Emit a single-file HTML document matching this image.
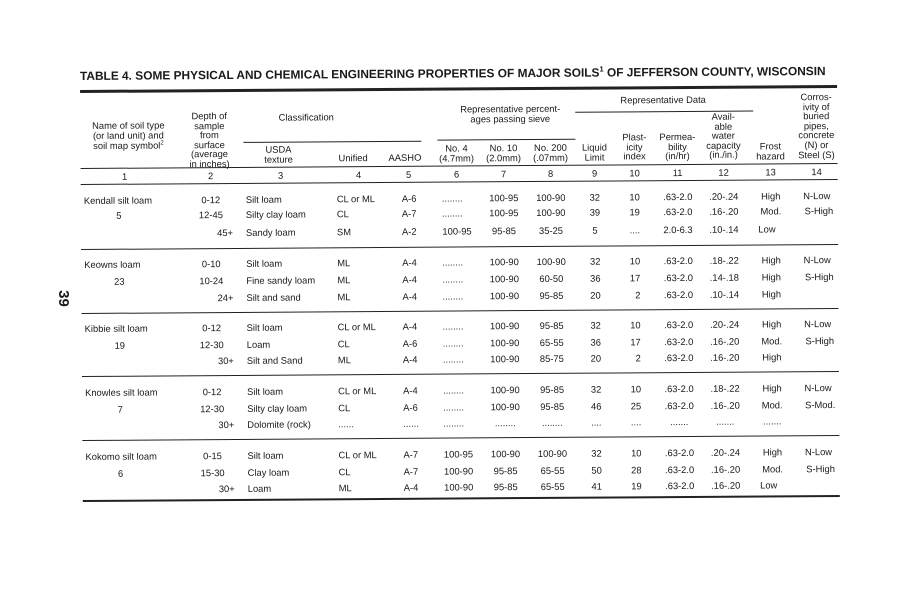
<!DOCTYPE html>
<html><head><meta charset="utf-8"><style>
body{margin:0;background:#fff;width:919px;height:600px;overflow:hidden;position:relative;font-family:"Liberation Sans",Arial,sans-serif;color:#1a1a1a}
#w{position:absolute;left:0;top:0;width:919px;height:600px;transform:rotate(-0.38deg);transform-origin:80px 80px}
#w div{position:absolute;white-space:nowrap;font-size:9.4px;line-height:9.6px}
.c{transform:translateX(-50%);text-align:center}
.r{transform:translateX(-100%);text-align:right}
.h{position:absolute;background:#222}
#w .t{font-size:11.9px;font-weight:bold;letter-spacing:0px}
</style></head><body>
<div style="position:absolute;left:55px;top:290px;font-size:15px;font-weight:bold;transform:rotate(90deg)">39</div>
<div id="w">
<div class="t" style="left:80px;top:68px">TABLE 4. SOME PHYSICAL AND CHEMICAL ENGINEERING PROPERTIES OF MAJOR SOILS<sup style="font-size:7.5px">1</sup> OF JEFFERSON COUNTY, WISCONSIN</div>
<span class="h" style="left:80px;top:90px;width:757px;height:2.5px"></span>

<div class="c" style="left:128px;top:121px">Name of soil type<br>(or land unit) and<br>soil map symbol<sup style="font-size:6px">2</sup></div>
<div class="c" style="left:209px;top:112px">Depth of<br>sample<br>from<br>surface<br>(average<br>in inches)</div>
<div class="c" style="left:306px;top:114px">Classification</div>
<span class="h" style="left:243px;top:143px;width:178px;height:1px"></span>
<div class="c" style="left:278px;top:146px">USDA<br>texture</div>
<div style="left:338px;top:155px">Unified</div>
<div style="left:388px;top:155px">AASHO</div>
<div class="c" style="left:510px;top:107px">Representative percent-<br>ages passing sieve</div>
<span class="h" style="left:437px;top:142px;width:138px;height:1px"></span>
<div class="c" style="left:456px;top:146px">No. 4<br>(4.7mm)</div>
<div class="c" style="left:503px;top:146px">No. 10<br>(2.0mm)</div>
<div class="c" style="left:550px;top:146px">No. 200<br>(.07mm)</div>
<div class="c" style="left:663px;top:99px">Representative Data</div>
<span class="h" style="left:575px;top:115px;width:178px;height:1px"></span>
<div class="c" style="left:594px;top:146px">Liquid<br>Limit</div>
<div class="c" style="left:634px;top:136px">Plast-<br>icity<br>index</div>
<div class="c" style="left:677px;top:136px">Permea-<br>bility<br>(in/hr)</div>
<div class="c" style="left:723px;top:116px">Avail-<br>able<br>water<br>capacity<br>(in./in.)</div>
<div class="c" style="left:770px;top:146px">Frost<br>hazard</div>
<div class="c" style="left:816px;top:97px">Corros-<br>ivity of<br>buried<br>pipes,<br>concrete<br>(N) or<br>Steel (S)</div>
<span class="h" style="left:80px;top:168px;width:757px;height:1.3px"></span>
<div class="c" style="left:124px;top:172px">1</div><div class="c" style="left:210px;top:172px">2</div><div class="c" style="left:280px;top:172px">3</div><div class="c" style="left:358px;top:172px">4</div><div class="c" style="left:408px;top:172px">5</div><div class="c" style="left:456px;top:172px">6</div><div class="c" style="left:503px;top:172px">7</div><div class="c" style="left:550px;top:172px">8</div><div class="c" style="left:594px;top:172px">9</div><div class="c" style="left:634px;top:172px">10</div><div class="c" style="left:677px;top:172px">11</div><div class="c" style="left:723px;top:172px">12</div><div class="c" style="left:770px;top:172px">13</div><div class="c" style="left:816px;top:172px">14</div>
<span class="h" style="left:80px;top:184px;width:757px;height:1.3px"></span>

<!-- Kendall -->
<div style="left:83px;top:196px">Kendall silt loam</div>
<div class="c" style="left:118px;top:211px">5</div>
<div class="c" style="left:210px;top:196px">0-12</div><div class="c" style="left:210px;top:211px">12-45</div><div class="r" style="left:232px;top:229px">45+</div>
<div style="left:245px;top:196px">Silt loam</div><div style="left:245px;top:211px">Silty clay loam</div><div style="left:245px;top:229px">Sandy loam</div>
<div style="left:336px;top:196px">CL or ML</div><div style="left:336px;top:211px">CL</div><div style="left:336px;top:229px">SM</div>
<div style="left:401px;top:196px">A-6</div><div style="left:401px;top:211px">A-7</div><div style="left:401px;top:229px">A-2</div>
<div style="left:441px;top:196px">........</div><div style="left:441px;top:211px">........</div><div class="c" style="left:456px;top:229px">100-95</div>
<div class="c" style="left:503px;top:196px">100-95</div><div class="c" style="left:503px;top:211px">100-95</div><div class="c" style="left:503px;top:229px">95-85</div>
<div class="c" style="left:550px;top:196px">100-90</div><div class="c" style="left:550px;top:211px">100-90</div><div class="c" style="left:550px;top:229px">35-25</div>
<div class="c" style="left:594px;top:196px">32</div><div class="c" style="left:594px;top:211px">39</div><div class="c" style="left:594px;top:229px">5</div>
<div class="r" style="left:639px;top:196px">10</div><div class="r" style="left:639px;top:211px">19</div><div class="r" style="left:639px;top:229px">....</div>
<div class="c" style="left:677px;top:196px">.63-2.0</div><div class="c" style="left:677px;top:211px">.63-2.0</div><div class="c" style="left:677px;top:229px">2.0-6.3</div>
<div class="c" style="left:723px;top:196px">.20-.24</div><div class="c" style="left:723px;top:211px">.16-.20</div><div class="c" style="left:723px;top:229px">.10-.14</div>
<div class="c" style="left:770px;top:196px">High</div><div class="c" style="left:770px;top:211px">Mod.</div><div class="c" style="left:766px;top:229px">Low</div>
<div class="c" style="left:816px;top:196px">N-Low</div><div class="c" style="left:818px;top:211px">S-High</div>
<span class="h" style="left:80px;top:249px;width:757px;height:1.3px"></span>

<!-- Keowns -->
<div style="left:83px;top:260px">Keowns loam</div>
<div class="c" style="left:118px;top:277px">23</div>
<div class="c" style="left:210px;top:260px">0-10</div><div class="c" style="left:210px;top:277px">10-24</div><div class="r" style="left:232px;top:294px">24+</div>
<div style="left:245px;top:260px">Silt loam</div><div style="left:245px;top:277px">Fine sandy loam</div><div style="left:245px;top:294px">Silt and sand</div>
<div style="left:336px;top:260px">ML</div><div style="left:336px;top:277px">ML</div><div style="left:336px;top:294px">ML</div>
<div style="left:401px;top:260px">A-4</div><div style="left:401px;top:277px">A-4</div><div style="left:401px;top:294px">A-4</div>
<div style="left:441px;top:260px">........</div><div style="left:441px;top:277px">........</div><div style="left:441px;top:294px">........</div>
<div class="c" style="left:503px;top:260px">100-90</div><div class="c" style="left:503px;top:277px">100-90</div><div class="c" style="left:503px;top:294px">100-90</div>
<div class="c" style="left:550px;top:260px">100-90</div><div class="c" style="left:550px;top:277px">60-50</div><div class="c" style="left:550px;top:294px">95-85</div>
<div class="c" style="left:594px;top:260px">32</div><div class="c" style="left:594px;top:277px">36</div><div class="c" style="left:594px;top:294px">20</div>
<div class="r" style="left:639px;top:260px">10</div><div class="r" style="left:639px;top:277px">17</div><div class="r" style="left:639px;top:294px">2</div>
<div class="c" style="left:677px;top:260px">.63-2.0</div><div class="c" style="left:677px;top:277px">.63-2.0</div><div class="c" style="left:677px;top:294px">.63-2.0</div>
<div class="c" style="left:723px;top:260px">.18-.22</div><div class="c" style="left:723px;top:277px">.14-.18</div><div class="c" style="left:723px;top:294px">.10-.14</div>
<div class="c" style="left:770px;top:260px">High</div><div class="c" style="left:770px;top:277px">High</div><div class="c" style="left:770px;top:294px">High</div>
<div class="c" style="left:816px;top:260px">N-Low</div><div class="c" style="left:818px;top:277px">S-High</div>
<span class="h" style="left:80px;top:313px;width:757px;height:1.3px"></span>

<!-- Kibbie -->
<div style="left:83px;top:324px">Kibbie silt loam</div>
<div class="c" style="left:118px;top:341px">19</div>
<div class="c" style="left:210px;top:324px">0-12</div><div class="c" style="left:210px;top:341px">12-30</div><div class="r" style="left:232px;top:357px">30+</div>
<div style="left:245px;top:324px">Silt loam</div><div style="left:245px;top:341px">Loam</div><div style="left:245px;top:357px">Silt and Sand</div>
<div style="left:336px;top:324px">CL or ML</div><div style="left:336px;top:341px">CL</div><div style="left:336px;top:357px">ML</div>
<div style="left:401px;top:324px">A-4</div><div style="left:401px;top:341px">A-6</div><div style="left:401px;top:357px">A-4</div>
<div style="left:441px;top:324px">........</div><div style="left:441px;top:341px">........</div><div style="left:441px;top:357px">........</div>
<div class="c" style="left:503px;top:324px">100-90</div><div class="c" style="left:503px;top:341px">100-90</div><div class="c" style="left:503px;top:357px">100-90</div>
<div class="c" style="left:550px;top:324px">95-85</div><div class="c" style="left:550px;top:341px">65-55</div><div class="c" style="left:550px;top:357px">85-75</div>
<div class="c" style="left:594px;top:324px">32</div><div class="c" style="left:594px;top:341px">36</div><div class="c" style="left:594px;top:357px">20</div>
<div class="r" style="left:639px;top:324px">10</div><div class="r" style="left:639px;top:341px">17</div><div class="r" style="left:639px;top:357px">2</div>
<div class="c" style="left:677px;top:324px">.63-2.0</div><div class="c" style="left:677px;top:341px">.63-2.0</div><div class="c" style="left:677px;top:357px">.63-2.0</div>
<div class="c" style="left:723px;top:324px">.20-.24</div><div class="c" style="left:723px;top:341px">.16-.20</div><div class="c" style="left:723px;top:357px">.16-.20</div>
<div class="c" style="left:770px;top:324px">High</div><div class="c" style="left:770px;top:341px">Mod.</div><div class="c" style="left:770px;top:357px">High</div>
<div class="c" style="left:816px;top:324px">N-Low</div><div class="c" style="left:818px;top:341px">S-High</div>
<span class="h" style="left:80px;top:376px;width:757px;height:1.3px"></span>

<!-- Knowles -->
<div style="left:83px;top:388px">Knowles silt loam</div>
<div class="c" style="left:118px;top:405px">7</div>
<div class="c" style="left:210px;top:388px">0-12</div><div class="c" style="left:210px;top:405px">12-30</div><div class="r" style="left:232px;top:421px">30+</div>
<div style="left:245px;top:388px">Silt loam</div><div style="left:245px;top:405px">Silty clay loam</div><div style="left:245px;top:421px">Dolomite (rock)</div>
<div style="left:336px;top:388px">CL or ML</div><div style="left:336px;top:405px">CL</div><div style="left:336px;top:421px">......</div>
<div style="left:401px;top:388px">A-4</div><div style="left:401px;top:405px">A-6</div><div style="left:401px;top:421px">......</div>
<div style="left:441px;top:388px">........</div><div style="left:441px;top:405px">........</div><div style="left:441px;top:421px">........</div>
<div class="c" style="left:503px;top:388px">100-90</div><div class="c" style="left:503px;top:405px">100-90</div><div class="c" style="left:503px;top:421px">........</div>
<div class="c" style="left:550px;top:388px">95-85</div><div class="c" style="left:550px;top:405px">95-85</div><div class="c" style="left:550px;top:421px">........</div>
<div class="c" style="left:594px;top:388px">32</div><div class="c" style="left:594px;top:405px">46</div><div class="c" style="left:594px;top:421px">....</div>
<div class="r" style="left:639px;top:388px">10</div><div class="r" style="left:639px;top:405px">25</div><div class="r" style="left:639px;top:421px">....</div>
<div class="c" style="left:677px;top:388px">.63-2.0</div><div class="c" style="left:677px;top:405px">.63-2.0</div><div class="c" style="left:677px;top:421px">.......</div>
<div class="c" style="left:723px;top:388px">.18-.22</div><div class="c" style="left:723px;top:405px">.16-.20</div><div class="c" style="left:723px;top:421px">.......</div>
<div class="c" style="left:770px;top:388px">High</div><div class="c" style="left:770px;top:405px">Mod.</div><div class="c" style="left:770px;top:421px">.......</div>
<div class="c" style="left:816px;top:388px">N-Low</div><div class="c" style="left:818px;top:405px">S-Mod.</div>
<span class="h" style="left:80px;top:440px;width:757px;height:1.3px"></span>

<!-- Kokomo -->
<div style="left:83px;top:452px">Kokomo silt loam</div>
<div class="c" style="left:118px;top:469px">6</div>
<div class="c" style="left:210px;top:452px">0-15</div><div class="c" style="left:210px;top:469px">15-30</div><div class="r" style="left:232px;top:485px">30+</div>
<div style="left:245px;top:452px">Silt loam</div><div style="left:245px;top:469px">Clay loam</div><div style="left:245px;top:485px">Loam</div>
<div style="left:336px;top:452px">CL or ML</div><div style="left:336px;top:469px">CL</div><div style="left:336px;top:485px">ML</div>
<div style="left:401px;top:452px">A-7</div><div style="left:401px;top:469px">A-7</div><div style="left:401px;top:485px">A-4</div>
<div class="c" style="left:456px;top:452px">100-95</div><div class="c" style="left:456px;top:469px">100-90</div><div class="c" style="left:456px;top:485px">100-90</div>
<div class="c" style="left:503px;top:452px">100-90</div><div class="c" style="left:503px;top:469px">95-85</div><div class="c" style="left:503px;top:485px">95-85</div>
<div class="c" style="left:550px;top:452px">100-90</div><div class="c" style="left:550px;top:469px">65-55</div><div class="c" style="left:550px;top:485px">65-55</div>
<div class="c" style="left:594px;top:452px">32</div><div class="c" style="left:594px;top:469px">50</div><div class="c" style="left:594px;top:485px">41</div>
<div class="r" style="left:639px;top:452px">10</div><div class="r" style="left:639px;top:469px">28</div><div class="r" style="left:639px;top:485px">19</div>
<div class="c" style="left:677px;top:452px">.63-2.0</div><div class="c" style="left:677px;top:469px">.63-2.0</div><div class="c" style="left:677px;top:485px">.63-2.0</div>
<div class="c" style="left:723px;top:452px">.20-.24</div><div class="c" style="left:723px;top:469px">.16-.20</div><div class="c" style="left:723px;top:485px">.16-.20</div>
<div class="c" style="left:770px;top:452px">High</div><div class="c" style="left:770px;top:469px">Mod.</div><div class="c" style="left:766px;top:485px">Low</div>
<div class="c" style="left:816px;top:452px">N-Low</div><div class="c" style="left:818px;top:469px">S-High</div>
<span class="h" style="left:80px;top:500px;width:757px;height:2px"></span>
</div>
</body></html>
